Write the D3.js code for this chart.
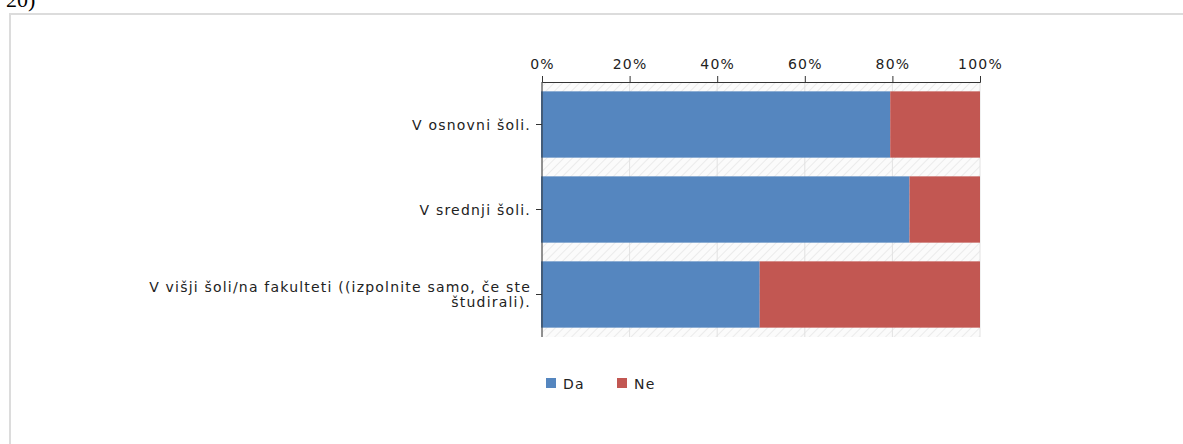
<!DOCTYPE html>
<html>
<head>
<meta charset="utf-8">
<script src="https://cdn.jsdelivr.net/npm/d3@7"></script>
<style>
	body { margin: 0; background: #fff; }
	svg text { font-family: "DejaVu Sans", Verdana, sans-serif; fill: #222; letter-spacing: 1.2px; }
</style>
</head>
<body>
<div id="chart"></div>
<script>
(function(){
	var width = 1183,
		height = 444;

	// data
	var categories = ["V osnovni šoli.", "V srednji šoli.", "V višji šoli/na fakulteti ((izpolnite samo, če ste študirali)."];
	var seriesNames = ["Da", "Ne"];
	var daValues = [79.5, 83.9, 49.7];
	var neValues = [20.5, 16.1, 50.3];
	var tickValues = [0, 20, 40, 60, 80, 100];
	var colors = ["#5586bf", "#c25752"];

	var svg = d3.select("#chart")
		.append("svg")
		.attr("width", width)
		.attr("height", height)

	// hatch pattern for the plot background
	var defs = svg.append("defs")
	var pat = defs.append("pattern")
		.attr("id", "hatch")
		.attr("patternUnits", "userSpaceOnUse")
		.attr("width", 6)
		.attr("height", 6)
		.attr("patternTransform", "rotate(45)")
	pat.append("rect").attr("width", 6).attr("height", 6).attr("fill", "#fbfbfb")
	pat.append("line")
		.attr("x1", 0).attr("y1", 0).attr("x2", 0).attr("y2", 6)
		.attr("stroke", "#e6e6e6").attr("stroke-width", 1.5)

	// cut-off heading above the frame
	svg.append("text")
		.attr("x", 6)
		.attr("y", 7)
		.style("font-family", "'Liberation Serif', 'Times New Roman', serif")
		.style("font-size", "22px")
		.style("letter-spacing", "0")
		.style("fill", "#000")
		.text("20)")

	// frame
	svg.append("path")
		.attr("d", "M10," + height + "V14H" + width)
		.attr("fill", "none")
		.attr("stroke", "#dcdcdc")
		.attr("stroke-width", 2)

	var x = d3.scaleLinear().domain([0, 100]).range([542, 980])
	var y = d3.scaleBand().domain(categories).range([82, 337]).paddingInner(0.22).paddingOuter(0.11)

	var plot = svg.append("g")

	plot.append("rect")
		.attr("x", x(0))
		.attr("y", 82)
		.attr("width", x(100) - x(0))
		.attr("height", 337 - 82)
		.attr("fill", "url(#hatch)")

	plot.selectAll(".grid")
		.data(tickValues)
		.enter().append("line")
		.attr("class", "grid")
		.attr("x1", function(d){ return x(d) })
		.attr("x2", function(d){ return x(d) })
		.attr("y1", 82)
		.attr("y2", 337)
		.attr("stroke", "#e2e2e2")

	// stacked bars
	var rows = categories.map(function(c, i){
		return { cat: c, Da: daValues[i], Ne: neValues[i] }
	})
	var stack = d3.stack().keys(seriesNames)(rows)

	plot.selectAll(".series")
		.data(stack)
		.enter().append("g")
		.attr("fill", function(d, i){ return colors[i] })
		.selectAll("rect")
		.data(function(d){ return d })
		.enter().append("rect")
		.attr("x", function(d){ return x(d[0]) - (d[0] === 0 ? 1 : 0) })
		.attr("y", function(d){ return y(d.data.cat) })
		.attr("width", function(d){ return x(d[1]) - x(d[0]) + (d[0] === 0 ? 1 : 0) })
		.attr("height", y.bandwidth())

	// top axis
	var xAxis = svg.append("g")
		.attr("transform", "translate(0,82)")
		.call(d3.axisTop(x).tickValues(tickValues).tickFormat(function(d){ return d + "%" }).tickSizeOuter(0).tickSize(6))
	xAxis.select(".domain").attr("stroke", "#333")
	xAxis.selectAll(".tick line").attr("stroke", "#333")
	xAxis.selectAll(".tick text").style("font-size", "14px").attr("dy", "0").attr("y", -13)

	// left axis
	var yAxis = svg.append("g")
		.attr("transform", "translate(542,0)")
		.call(d3.axisLeft(y).tickSize(6).tickSizeOuter(0))
	yAxis.select(".domain").attr("stroke", "#333").attr("d", "M0,82V337")
	yAxis.selectAll(".tick line").attr("stroke", "#333")
	yAxis.selectAll(".tick text").remove()

	// category labels (wrapped by hand where the original wraps)
	var labelLines = [
		["V osnovni šoli."],
		["V srednji šoli."],
		["V višji šoli/na fakulteti ((izpolnite samo, če ste", "študirali)."]
	]
	categories.forEach(function(c, i){
		var lines = labelLines[i]
		var cy = y(c) + y.bandwidth() / 2
		var t = svg.append("text")
			.attr("text-anchor", "end")
			.style("font-size", "14px")
		lines.forEach(function(l, j){
			t.append("tspan")
				.attr("x", 531)
				.attr("y", cy + 5 + (j - (lines.length - 1) / 2) * 15)
				.text(l)
		})
	})

	// legend
	var legend = svg.append("g").attr("transform", "translate(546,378)")
	var items = legend.selectAll(".item")
		.data(seriesNames)
		.enter().append("g")
		.attr("transform", function(d, i){ return "translate(" + (i * 71) + ",0)" })
	items.append("rect")
		.attr("width", 10)
		.attr("height", 10)
		.attr("fill", function(d, i){ return colors[i] })
	items.append("text")
		.attr("x", 17)
		.attr("y", 10.5)
		.style("font-size", "14px")
		.text(function(d){ return d })

})();
</script>
</body>
</html>
